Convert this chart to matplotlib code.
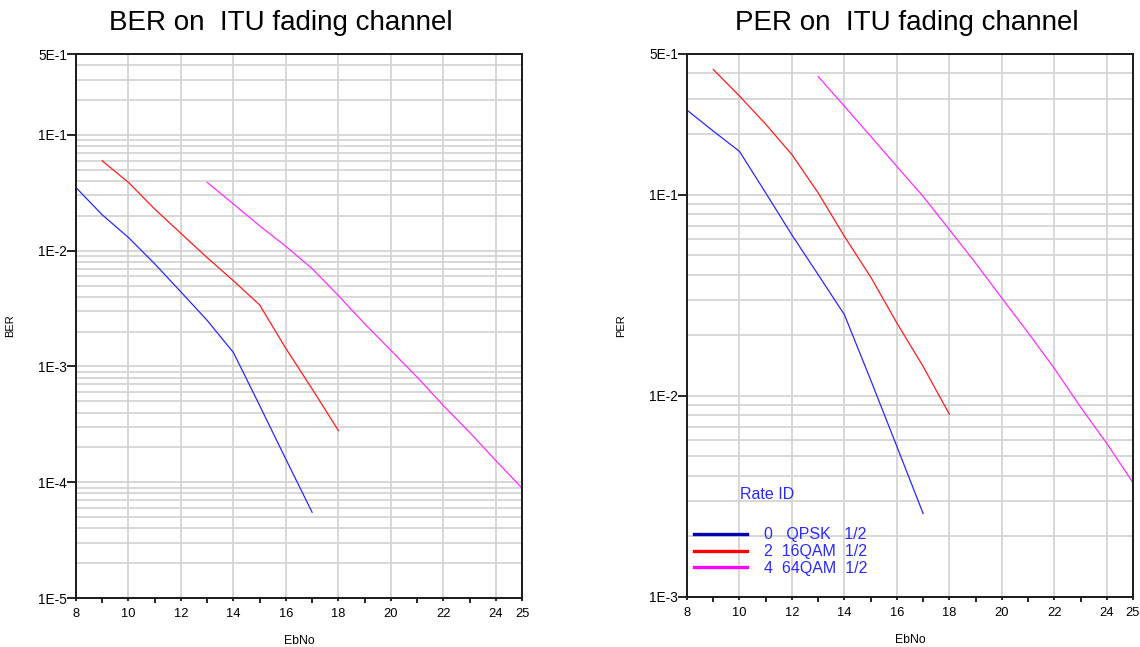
import matplotlib
matplotlib.use("Agg")
import matplotlib.pyplot as plt
from matplotlib.ticker import FixedLocator, LogLocator, NullFormatter, FixedFormatter
from matplotlib.lines import Line2D

plt.rcParams['font.family'] = ['Liberation Sans', 'DejaVu Sans']

# Eb/No points (dB) for each rate
ebno_qpsk = [8, 9, 10, 11, 12, 13, 14, 15, 16, 17]
ebno_16qam = [9, 10, 11, 12, 13, 14, 15, 16, 17, 18]
ebno_64qam = [13, 14, 15, 16, 17, 18, 19, 20, 21, 22, 23, 24, 25]

# Bit error rate
ber_qpsk = [0.0351, 0.0204, 0.0130, 0.0077, 0.0044, 0.0025, 0.00132, 0.00046, 0.000158, 0.000055]
ber_16qam = [0.0597, 0.0389, 0.0229, 0.0141, 0.0087, 0.0055, 0.0034, 0.00143, 0.00064, 0.00028]
ber_64qam = [0.0389, 0.0253, 0.0164, 0.0109, 0.0070, 0.0041, 0.00234, 0.00138,
             0.00081, 0.00046, 0.00027, 0.000154, 0.000089]

# Packet error rate
per_qpsk = [0.263, 0.207, 0.164, 0.102, 0.063, 0.040, 0.0253, 0.0120, 0.0056, 0.0026]
per_16qam = [0.419, 0.309, 0.224, 0.158, 0.102, 0.062, 0.039, 0.023, 0.0140, 0.0081]
per_64qam = [0.386, 0.275, 0.195, 0.138, 0.098, 0.067, 0.0457, 0.0306, 0.0206,
             0.0137, 0.0088, 0.0058, 0.0037]

rate_labels = ["0   QPSK   1/2", "2  16QAM  1/2", "4  64QAM  1/2"]
x_ticks = [8, 10, 12, 14, 16, 18, 20, 22, 24, 25]
ber_ticks = [1e-5, 1e-4, 1e-3, 1e-2, 1e-1, 5e-1]
ber_tick_labels = ["1E-5", "1E-4", "1E-3", "1E-2", "1E-1", "5E-1"]
per_ticks = [1e-3, 1e-2, 1e-1, 5e-1]
per_tick_labels = ["1E-3", "1E-2", "1E-1", "5E-1"]

line_colors = ['#2828ff', '#ff1a1a', '#ff2cff']
key_colors = ['#0000b4', '#ff0000', '#ff00ff']
grid_color = '#d4d4d4'

fig = plt.figure(figsize=(11.4, 6.47), dpi=100)
ax1 = fig.add_axes([76 / 1140, 49 / 647, 446 / 1140, 544 / 647])
ax2 = fig.add_axes([687 / 1140, 50 / 647, 446 / 1140, 543 / 647])


def style_axes(ax, yticks, ylabels, ylo, ylabel):
    ax.set_yscale('log')
    ax.set_xlim(8, 25)
    ax.set_ylim(ylo, 5e-1)
    ax.yaxis.set_major_locator(FixedLocator(yticks))
    ax.yaxis.set_major_formatter(FixedFormatter(ylabels))
    ax.yaxis.set_minor_locator(LogLocator(base=10, subs=range(2, 10), numticks=20))
    ax.yaxis.set_minor_formatter(NullFormatter())
    ax.xaxis.set_major_locator(FixedLocator(x_ticks))
    ax.xaxis.set_major_formatter(FixedFormatter([str(v) for v in x_ticks]))
    ax.xaxis.set_minor_locator(FixedLocator([9, 11, 13, 15, 17, 19, 21, 23]))
    ax.tick_params(axis='y', which='major', length=6.5, width=1.2, pad=0,
                   labelsize=9.8, direction='out')
    ax.tick_params(axis='y', which='minor', length=0)
    ax.tick_params(axis='x', which='major', length=2, width=1.2, pad=5,
                   labelsize=9.3, direction='out')
    ax.tick_params(axis='x', which='minor', length=3.5, width=1.2, direction='out')
    ax.grid(True, axis='y', which='both', color=grid_color, linewidth=1.3)
    ax.grid(True, axis='x', which='major', color=grid_color, linewidth=1.3)
    ax.set_axisbelow(True)
    for sp in ax.spines.values():
        sp.set_linewidth(1.4)
        sp.set_color('#1a1a1a')
    ax.set_xlabel("EbNo", fontsize=8.8, labelpad=11)
    ax.set_ylabel(ylabel, fontsize=8)
    ax.yaxis.set_label_coords(-0.137, 0.5)


style_axes(ax1, ber_ticks, ber_tick_labels, 1e-5, "BER")
style_axes(ax2, per_ticks, per_tick_labels, 1e-3, "PER")

ax1.plot(ebno_qpsk, ber_qpsk, color=line_colors[0], linewidth=0.9)
ax1.plot(ebno_16qam, ber_16qam, color=line_colors[1], linewidth=0.9)
ax1.plot(ebno_64qam, ber_64qam, color=line_colors[2], linewidth=0.9)

ax2.plot(ebno_qpsk, per_qpsk, color=line_colors[0], linewidth=0.9)
ax2.plot(ebno_16qam, per_16qam, color=line_colors[1], linewidth=0.9)
ax2.plot(ebno_64qam, per_64qam, color=line_colors[2], linewidth=0.9)

fig.text(281 / 1140, 1 - 23 / 647, "BER on  ITU fading channel", fontsize=20,
         ha='center', va='center')
fig.text(907 / 1140, 1 - 23 / 647, "PER on  ITU fading channel", fontsize=20,
         ha='center', va='center')

# Rate key in the PER panel
handles = [Line2D([0], [0], color=c, linewidth=2.4) for c in key_colors]
leg = ax2.legend(handles, rate_labels, loc='upper left',
                 bbox_to_anchor=(0.0157, 0.128), frameon=False, fontsize=11.5,
                 handlelength=3.3, handletextpad=1.1, labelspacing=0.1,
                 borderpad=0, borderaxespad=0)
for t in leg.get_texts():
    t.set_color('#2a2aff')
ax2.text(0.119, 0.188, "Rate ID", transform=ax2.transAxes, fontsize=11.5,
         color='#2a2aff', ha='left', va='center')

fig.savefig("out.png", dpi=100)
